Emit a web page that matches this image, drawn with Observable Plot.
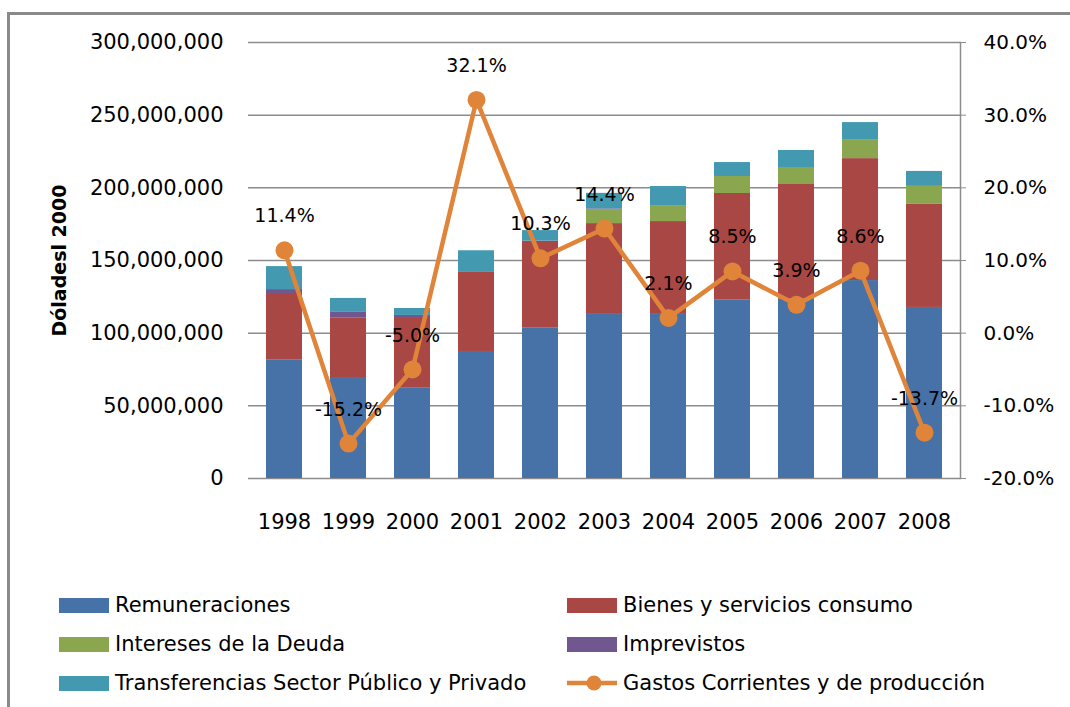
<!DOCTYPE html>
<html>
<head>
<meta charset="utf-8">
<script src="https://cdn.jsdelivr.net/npm/d3@7"></script>
<script src="https://cdn.jsdelivr.net/npm/@observablehq/plot@0.6"></script>
<style>
  html, body { margin: 0; padding: 0; background: #fff; }
  body { width: 1070px; height: 707px; overflow: hidden; position: relative; font-family: "DejaVu Sans", sans-serif; }
  #border { position: absolute; left: 7px; top: 12px; width: 1200px; height: 900px; border-left: 3px solid #8a8a8a; border-top: 3px solid #8a8a8a; }
  .layer { position: absolute; left: 0; top: 0; }
  [aria-label="y-axis label"] text { font-weight: bold; font-size: 19px; }
  .legend-item { position: absolute; display: flex; align-items: center; font-size: 21px; color: #000; white-space: nowrap; }
  .sw { width: 50px; height: 15px; margin-right: 6px; }
</style>
</head>
<body>
<div id="border"></div>
<div id="p1" class="layer"></div>
<div id="p2" class="layer"></div>
<div id="legend"></div>
<script>
const years = ["1998","1999","2000","2001","2002","2003","2004","2005","2006","2007","2008"];
const seriesNames = ["Remuneraciones","Bienes y servicios consumo","Intereses de la Deuda","Imprevistos","Transferencias Sector Público y Privado"];
const lineName = "Gastos Corrientes y de producción";
const remuneraciones = [81700000, 69500000, 62100000, 87400000, 103400000, 113500000, 113500000, 122700000, 123400000, 136200000, 117700000];
const bienes = [44900000, 41100000, 48000000, 54400000, 59900000, 61900000, 63300000, 73400000, 78900000, 83900000, 70900000];
const intereses = [0, 0, 0, 0, 0, 9600000, 11000000, 11700000, 11700000, 13100000, 12400000];
const imprevistos = [3400000, 3700000, 2100000, 500000, 0, 500000, 0, 0, 0, 0, 0];
const transferencias = [15800000, 9600000, 4800000, 14400000, 7300000, 10700000, 13100000, 9600000, 11700000, 11700000, 10300000];
const gastos = [11.4, -15.2, -5.0, 32.1, 10.3, 14.4, 2.1, 8.5, 3.9, 8.6, -13.7];
const leftTicks = [0, 50000000, 100000000, 150000000, 200000000, 250000000, 300000000];
const rightTicks = [-20, -10, 0, 10, 20, 30, 40];
const colors = ["#4672A8", "#A94744", "#8AA64F", "#715790", "#4299B0"];
const lineColor = "#E0843A";

const seriesValues = [remuneraciones, bienes, intereses, imprevistos, transferencias];
const table = [];
seriesNames.forEach((s, i) => years.forEach((y, j) => table.push({year: y, serie: s, value: seriesValues[i][j]})));
const lineData = years.map((y, j) => ({year: y, pct: gastos[j]}));

const W = 1070, H = 560;
const common = {
  width: W, height: H,
  marginLeft: 248, marginRight: 110, marginTop: 42, marginBottom: 82,
  style: {background: "transparent", fontFamily: "DejaVu Sans, sans-serif", fontSize: "20px", color: "#000"}
};
const xScale = {type: "band", domain: years, paddingInner: 0.43, paddingOuter: 0.215, align: 0.5};

const plot1 = Plot.plot({
  ...common,
  x: {...xScale},
  y: {domain: [0, 300000000]},
  color: {domain: seriesNames, range: colors},
  marks: [
    Plot.ruleY(leftTicks, {stroke: "#8c8c8c", strokeWidth: 1.5}),
    Plot.barY(table, {x: "year", y: "value", fill: "serie"}),
    Plot.axisY(leftTicks, {tickSize: 0, tickPadding: 25, tickFormat: d3.format(","), label: "Dóladesl 2000", labelAnchor: "center", labelArrow: "none", labelOffset: 196, fill: "#000", fontSize: 21}),
    Plot.axisX({tickSize: 0, tickPadding: 36, label: null, fill: "#000", fontSize: 21})
  ]
});
document.getElementById("p1").appendChild(plot1);

const plot2 = Plot.plot({
  ...common,
  x: {...xScale, axis: null},
  y: {domain: [-20, 40]},
  marks: [
    Plot.frame({anchor: "right", stroke: "#8c8c8c", strokeWidth: 1.5}),
    Plot.axisY(rightTicks, {anchor: "right", tickSize: 5, tickPadding: 18, stroke: "#8c8c8c", tickFormat: d => d.toFixed(1) + "%", label: null, fill: "#000"}),
    Plot.line(lineData, {x: "year", y: "pct", stroke: lineColor, strokeWidth: 4.5}),
    Plot.dot(lineData, {x: "year", y: "pct", r: 9, fill: lineColor, stroke: "none"}),
    Plot.text(lineData, {x: "year", y: "pct", text: d => d.pct.toFixed(1) + "%", dy: -34, fontSize: 19, fill: "#000"})
  ]
});
document.getElementById("p2").appendChild(plot2);

// Legend
const legend = document.getElementById("legend");
const items = [
  {name: seriesNames[0], color: colors[0], col: 0, row: 0},
  {name: seriesNames[1], color: colors[1], col: 1, row: 0},
  {name: seriesNames[2], color: colors[2], col: 0, row: 1},
  {name: seriesNames[3], color: colors[3], col: 1, row: 1},
  {name: seriesNames[4], color: colors[4], col: 0, row: 2},
  {name: lineName, color: lineColor, col: 1, row: 2, line: true}
];
const colX = [59, 567];
const rowY = [605, 644, 683];
items.forEach(it => {
  const d = document.createElement("div");
  d.className = "legend-item";
  d.style.left = colX[it.col] + "px";
  d.style.top = (rowY[it.row] - 13) + "px";
  d.style.height = "26px";
  if (it.line) {
    d.innerHTML = `<svg width="50" height="20" style="margin-right:6px"><line x1="0" y1="10" x2="50" y2="10" stroke="${it.color}" stroke-width="4.5"/><circle cx="27" cy="10" r="7.5" fill="${it.color}"/></svg>`;
  } else {
    d.innerHTML = `<div class="sw" style="background:${it.color}"></div>`;
  }
  const t = document.createElement("span");
  t.textContent = it.name;
  d.appendChild(t);
  legend.appendChild(d);
});
</script>
</body>
</html>
